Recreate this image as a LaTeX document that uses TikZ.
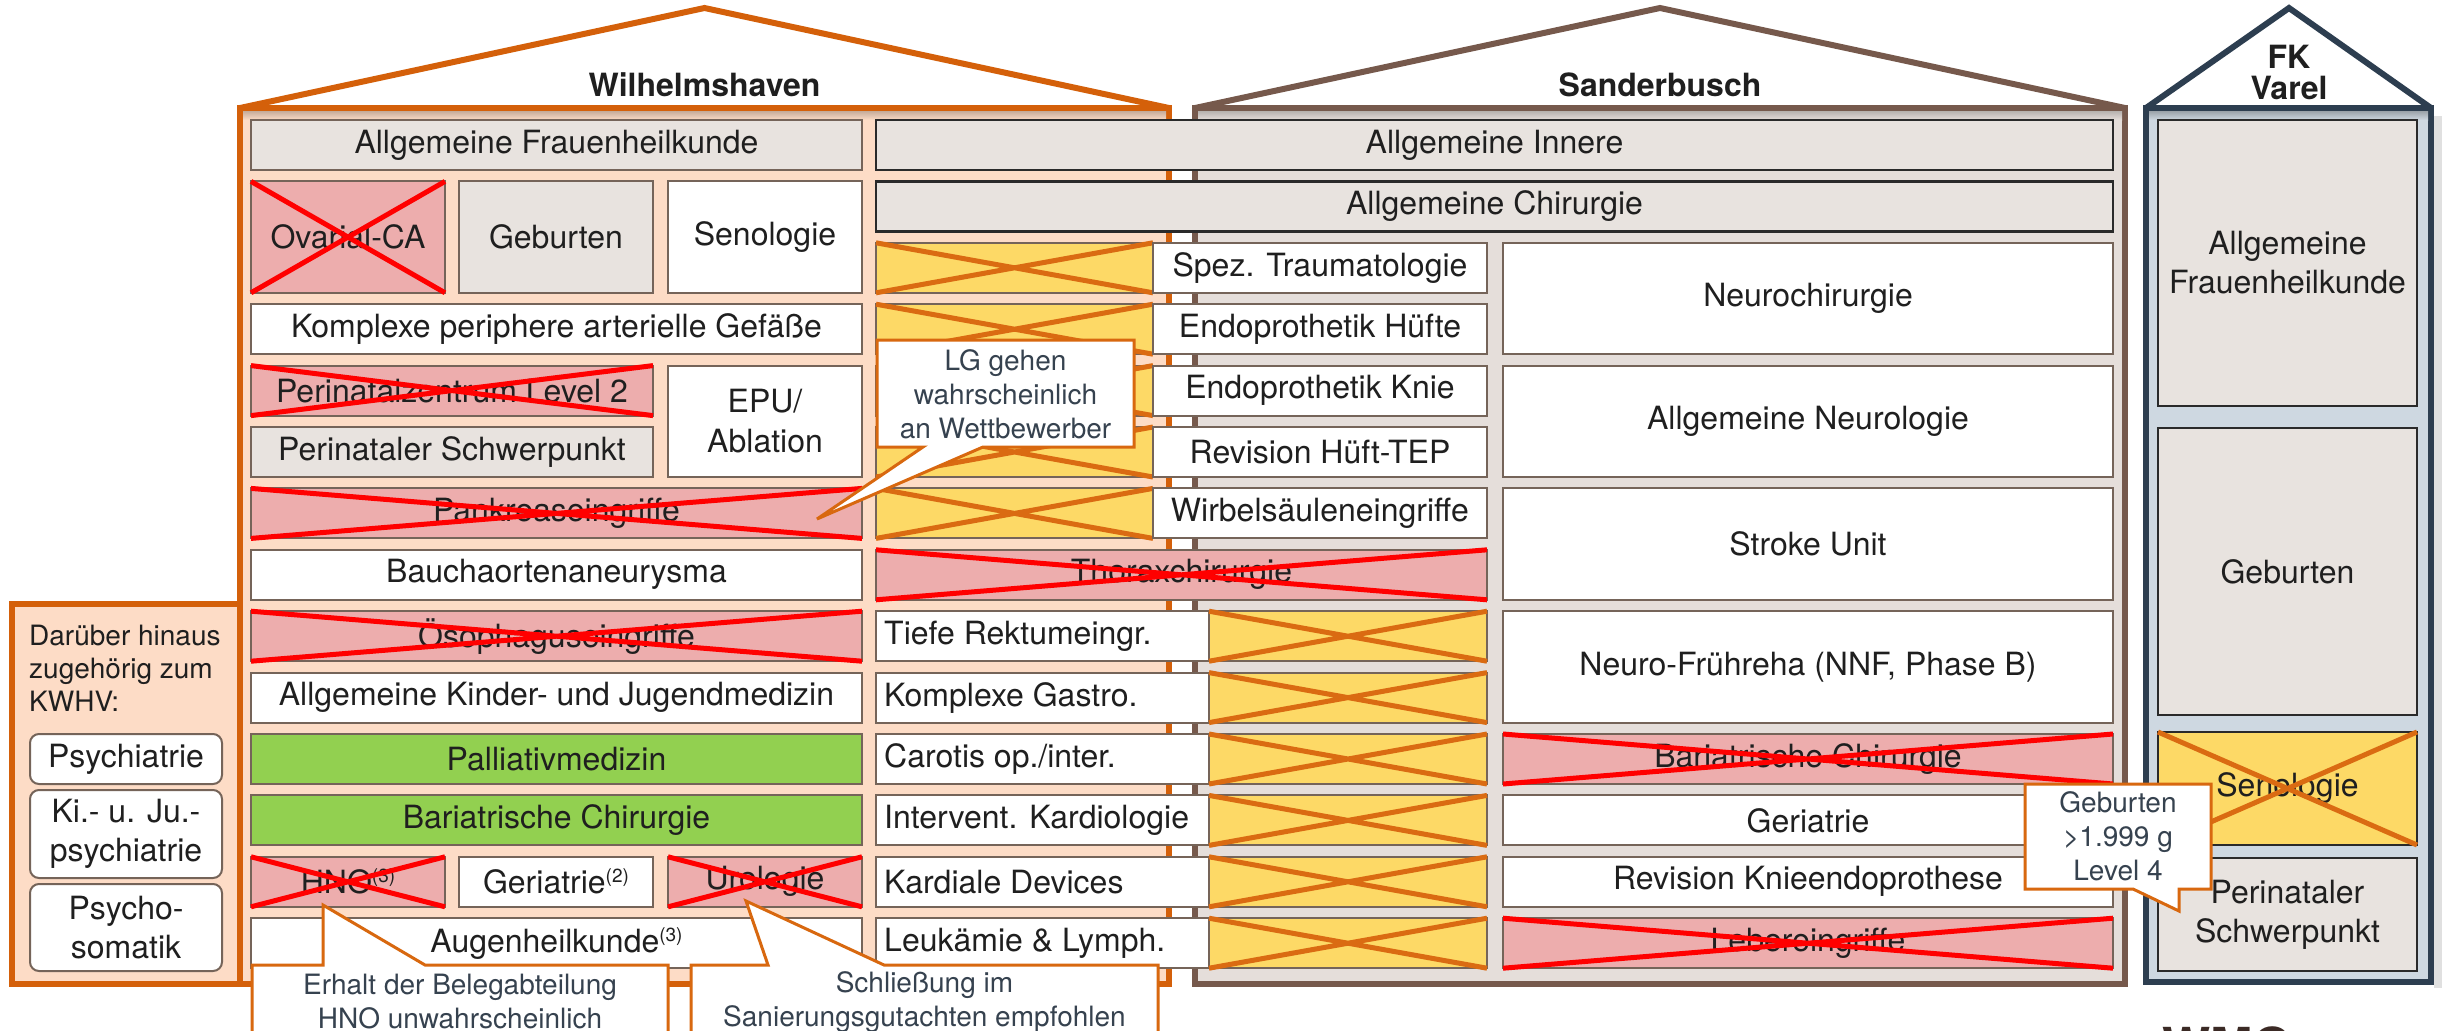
\documentclass[tikz,border=0pt]{standalone}
\usepackage{fontspec}
\setmainfont{TeX Gyre Heros}

\definecolor{orangeline}{HTML}{D4600A}
\definecolor{crossorange}{HTML}{DA6B12}
\definecolor{calloutline}{HTML}{D8680F}
\definecolor{peach}{HTML}{FDDCC6}
\definecolor{boxgray}{HTML}{E8E3DF}
\definecolor{sfill}{HTML}{E5DEDA}
\definecolor{redfill}{HTML}{EDADAD}
\definecolor{crossred}{HTML}{FF0000}
\definecolor{yellowfill}{HTML}{FDD966}
\definecolor{greenfill}{HTML}{92D050}
\definecolor{brownline}{HTML}{76594C}
\definecolor{navyline}{HTML}{2D3E50}
\definecolor{fkfill}{HTML}{CED8E1}
\definecolor{boxline}{HTML}{756459}
\definecolor{darkline}{HTML}{2A2A2A}
\definecolor{ink}{HTML}{1F1F1F}
\definecolor{slate}{HTML}{36424F}
\definecolor{wmgbrown}{HTML}{3B2A25}

\newcommand\fsMain{\fontsize{32}{39}\selectfont}
\newcommand\fsNote{\fontsize{28}{34}\selectfont}
\newcommand\hochz[1]{\raisebox{11pt}{\fontsize{19}{19}\selectfont(#1)}}

% cell spanning rows #4..#5 of the common grid, from x=#2 to x=#3
\newcommand\cellbox[7]{%
  \pgfmathsetmacro\cbT{120+(#4-1)*61.4}%
  \pgfmathsetmacro\cbH{(#5-#4)*61.4+50}%
  \node[#6, minimum width={(#3-#2)*1pt}, minimum height=\cbH pt]
    (#1) at ({(#2+#3)/2}, {\cbT+\cbH/2}) {#7};}
% cell with free corners (#2,#3) and (#4,#5)
\newcommand\freebox[7]{%
  \node[#6, minimum width={(#4-#2)*1pt}, minimum height={(#5-#3)*1pt}]
    (#1) at ({(#2+#4)/2}, {(#3+#5)/2}) {#7};}
\newcommand\crossout[2]{%
  \draw[#2] (#1.north west) -- (#1.south east) (#1.north east) -- (#1.south west);}

\begin{document}
\begin{tikzpicture}[x=1pt,y=-1pt,
  cell/.style={draw=boxline, line width=2pt, inner sep=0pt, outer sep=0pt,
    align=center, text=ink, font=\fsMain},
  graycell/.style={cell, fill=boxgray},
  whitecell/.style={cell, fill=white},
  redcell/.style={cell, fill=redfill},
  yellowcell/.style={cell, fill=yellowfill},
  greencell/.style={cell, fill=greenfill},
  darkcell/.style={cell, draw=darkline, line width=2.5pt, fill=boxgray},
  fkcell/.style={cell, draw=darkline, line width=2.5pt, fill=boxgray},
  fkyellow/.style={cell, draw=darkline, line width=2.5pt, fill=yellowfill},
  redcross/.style={draw=crossred, line width=5pt},
  orangecross/.style={draw=crossorange, line width=5pt},
  housewall/.style={line width=6pt},
  bubble/.style={draw=calloutline, line width=3pt, fill=white, line join=miter},
  bubbletext/.style={font=\fsNote, text=slate, align=center, inner sep=0pt},
  sidecell/.style={draw=boxline, line width=2pt, fill=white, rounded corners=9pt,
    inner sep=0pt, outer sep=0pt, align=center, text=ink, font=\fsMain},
  sidetext/.style={font=\fontsize{28}{33}\selectfont, text=ink, inner sep=0pt, anchor=base west},
  title/.style={font=\fontsize{32}{31}\selectfont\bfseries, text=ink, inner sep=0pt, anchor=base},
  leftlabel/.style={font=\fsMain, text=ink, inner sep=0pt, anchor=west},
]
\useasboundingbox (0,0) rectangle (2445,1031);
\fill[white] (0,0) rectangle (2445,1031);

% ---------- side panel KWHV ----------
\draw[housewall, draw=orangeline, fill=peach] (12,604) rectangle (240,984);

% ---------- house bodies ----------
\draw[housewall, draw=orangeline, fill=peach] (240,108) rectangle (1169,984);
\shade[top color=peach!78!black, bottom color=peach] (243,111) rectangle (1166,120);
\draw[housewall, draw=brownline, fill=sfill] (1195,108) rectangle (2125,984);
\shade[top color=sfill!80!black, bottom color=sfill] (1198,111) rectangle (2122,120);
\fill[black!12] (2434,116) rectangle (2442,988);
\draw[housewall, draw=navyline, fill=fkfill] (2146,108) rectangle (2431,982);
\shade[top color=fkfill!75!black, bottom color=fkfill] (2149,111) rectangle (2428,120);

% ---------- roofs ----------
\draw[housewall, draw=orangeline] (240,108) -- (704.5,8) -- (1169,108);
\draw[housewall, draw=brownline] (1195,108) -- (1660,8) -- (2125,108);
\draw[housewall, draw=navyline] (2146,108) -- (2289,8) -- (2431,108);

\node[title] (tw) at (704.5,96) {Wilhelmshaven};
\node[title] (ts) at (1660,96) {Sanderbusch};
\node[title] (tf1) at (2289,68) {FK};
\node[title] (tf2) at (2289,99) {Varel};

% ---------- Wilhelmshaven ----------
\cellbox{w1}{251}{862}{1}{1}{graycell}{Allgemeine Frauenheilkunde}
\cellbox{w2a}{251}{445}{2}{3}{redcell}{Ovarial-CA}
\crossout{w2a}{redcross}
\cellbox{w2b}{459}{653}{2}{3}{graycell}{Geburten}
\cellbox{w2c}{668}{862}{2}{3}{whitecell}{Senologie}
\cellbox{w4}{251}{862}{4}{4}{whitecell}{Komplexe periphere arterielle Gefäße}
\cellbox{w5}{251}{653}{5}{5}{redcell}{Perinatalzentrum Level 2}
\crossout{w5}{redcross}
\cellbox{w5c}{668}{862}{5}{6}{whitecell}{EPU/\\[1pt]Ablation}
\cellbox{w6}{251}{653}{6}{6}{graycell}{Perinataler Schwerpunkt}
\cellbox{w7}{251}{862}{7}{7}{redcell}{Pankreaseingriffe}
\crossout{w7}{redcross}
\cellbox{w8}{251}{862}{8}{8}{whitecell}{Bauchaortenaneurysma}
\cellbox{w9}{251}{862}{9}{9}{redcell}{Ösophaguseingriffe}
\crossout{w9}{redcross}
\cellbox{w10}{251}{862}{10}{10}{whitecell}{Allgemeine Kinder- und Jugendmedizin}
\cellbox{w11}{251}{862}{11}{11}{greencell}{Palliativmedizin}
\cellbox{w12}{251}{862}{12}{12}{greencell}{Bariatrische Chirurgie}
\cellbox{w13a}{251}{445}{13}{13}{redcell}{HNO\hochz{3}}
\crossout{w13a}{redcross}
\cellbox{w13b}{459}{653}{13}{13}{whitecell}{Geriatrie\hochz{2}}
\cellbox{w13c}{668}{862}{13}{13}{redcell}{Urologie}
\crossout{w13c}{redcross}
\cellbox{w14}{251}{862}{14}{14}{whitecell}{Augenheilkunde\hochz{3}}

% ---------- Sanderbusch ----------
\cellbox{s1}{876}{2113}{1}{1}{darkcell}{Allgemeine Innere}
\cellbox{s2}{876}{2113}{2}{2}{darkcell}{Allgemeine Chirurgie}

\cellbox{sy3}{876}{1153}{3}{3}{yellowcell}{}
\crossout{sy3}{orangecross}
\cellbox{s3}{1153}{1487}{3}{3}{whitecell}{Spez. Traumatologie}
\cellbox{sy4}{876}{1153}{4}{4}{yellowcell}{}
\crossout{sy4}{orangecross}
\cellbox{s4}{1153}{1487}{4}{4}{whitecell}{Endoprothetik Hüfte}
\cellbox{sy5}{876}{1153}{5}{5}{yellowcell}{}
\crossout{sy5}{orangecross}
\cellbox{s5}{1153}{1487}{5}{5}{whitecell}{Endoprothetik Knie}
\cellbox{sy6}{876}{1153}{6}{6}{yellowcell}{}
\crossout{sy6}{orangecross}
\cellbox{s6}{1153}{1487}{6}{6}{whitecell}{Revision Hüft-TEP}
\cellbox{sy7}{876}{1153}{7}{7}{yellowcell}{}
\crossout{sy7}{orangecross}
\cellbox{s7}{1153}{1487}{7}{7}{whitecell}{Wirbelsäuleneingriffe}

\cellbox{s8}{876}{1487}{8}{8}{redcell}{Thoraxchirurgie}
\crossout{s8}{redcross}

\cellbox{s9}{876}{1209}{9}{9}{whitecell}{}
\node[leftlabel] (s9t) at ([xshift=8pt]s9.west) {Tiefe Rektumeingr.};
\cellbox{sy9}{1209}{1487}{9}{9}{yellowcell}{}
\crossout{sy9}{orangecross}
\cellbox{s10}{876}{1209}{10}{10}{whitecell}{}
\node[leftlabel] (s10t) at ([xshift=8pt]s10.west) {Komplexe Gastro.};
\cellbox{sy10}{1209}{1487}{10}{10}{yellowcell}{}
\crossout{sy10}{orangecross}
\cellbox{s11}{876}{1209}{11}{11}{whitecell}{}
\node[leftlabel] (s11t) at ([xshift=8pt]s11.west) {Carotis op./inter.};
\cellbox{sy11}{1209}{1487}{11}{11}{yellowcell}{}
\crossout{sy11}{orangecross}
\cellbox{s12}{876}{1209}{12}{12}{whitecell}{}
\node[leftlabel] (s12t) at ([xshift=8pt]s12.west) {Intervent. Kardiologie};
\cellbox{sy12}{1209}{1487}{12}{12}{yellowcell}{}
\crossout{sy12}{orangecross}
\cellbox{s13}{876}{1209}{13}{13}{whitecell}{}
\node[leftlabel] (s13t) at ([xshift=8pt]s13.west) {Kardiale Devices};
\cellbox{sy13}{1209}{1487}{13}{13}{yellowcell}{}
\crossout{sy13}{orangecross}
\cellbox{s14}{876}{1209}{14}{14}{whitecell}{}
\node[leftlabel] (s14t) at ([xshift=8pt]s14.west) {Leukämie \& Lymph.};
\cellbox{sy14}{1209}{1487}{14}{14}{yellowcell}{}
\crossout{sy14}{orangecross}

\cellbox{sn1}{1503}{2113}{3}{4}{whitecell}{Neurochirurgie}
\cellbox{sn2}{1503}{2113}{5}{6}{whitecell}{Allgemeine Neurologie}
\cellbox{sn3}{1503}{2113}{7}{8}{whitecell}{Stroke Unit}
\cellbox{sn4}{1503}{2113}{9}{10}{whitecell}{Neuro-Frühreha (NNF, Phase B)}
\cellbox{sn5}{1503}{2113}{11}{11}{redcell}{Bariatrische Chirurgie}
\crossout{sn5}{redcross}
\cellbox{sn6}{1503}{2113}{12}{12}{whitecell}{Geriatrie}
\cellbox{sn7}{1503}{2113}{13}{13}{whitecell}{Revision Knieendoprothese}
\cellbox{sn8}{1503}{2113}{14}{14}{redcell}{Lebereingriffe}
\crossout{sn8}{redcross}

% ---------- FK Varel ----------
\freebox{f1}{2158}{120}{2417}{406}{fkcell}{Allgemeine\\Frauenheilkunde}
\freebox{f2}{2158}{428}{2417}{715}{fkcell}{Geburten}
\freebox{f3}{2158}{732}{2417}{845}{fkyellow}{Senologie}
\crossout{f3}{orangecross}
\freebox{f4}{2158}{858}{2417}{971}{fkcell}{Perinataler\\Schwerpunkt}

% ---------- KWHV side list ----------
\node[sidetext] (d1) at (29,645) {Darüber hinaus};
\node[sidetext] (d2) at (29,678) {zugehörig zum};
\node[sidetext] (d3) at (29,711) {KWHV:};
\freebox{k1}{30}{734}{222}{784}{sidecell}{Psychiatrie}
\freebox{k2}{30}{790}{222}{878}{sidecell}{Ki.- u. Ju.-\\psychiatrie}
\freebox{k3}{30}{884}{222}{971}{sidecell}{Psycho-\\somatik}

% ---------- callouts ----------
\draw[bubble] (877,340) -- (1134,340) -- (1134,447) -- (983,447) -- (817,519)
  -- (923,447) -- (877,447) -- cycle;
\node[bubbletext] (c1) at (1005.5,394) {LG gehen\\wahrscheinlich\\an Wettbewerber};

\draw[bubble] (323,965) -- (323,905) -- (425,965) -- (668,965) -- (668,1060)
  -- (252,1060) -- (252,965) -- cycle;
\node[bubbletext] (c2) at (460,1002) {Erhalt der Belegabteilung\\HNO unwahrscheinlich};

\draw[bubble] (768,965) -- (746,901) -- (884,965) -- (1158,965) -- (1158,1060)
  -- (691,1060) -- (691,965) -- cycle;
\node[bubbletext] (c3) at (924.5,1002) {Schließung im\\Sanierungsgutachten empfohlen};

\draw[bubble] (2025,784) -- (2211,784) -- (2211,889) -- (2179,889) -- (2179,911)
  -- (2133,889) -- (2025,889) -- cycle;
\node[bubbletext] (c4) at (2118,836) {Geburten\\>1.999 g\\Level 4};

% ---------- logo edge ----------
\node[font=\fontsize{51}{51}\selectfont\bfseries, text=wmgbrown, anchor=base west,
  inner sep=0pt] (wmg) at (2162,1064) {WMG};
\end{tikzpicture}
\end{document}
